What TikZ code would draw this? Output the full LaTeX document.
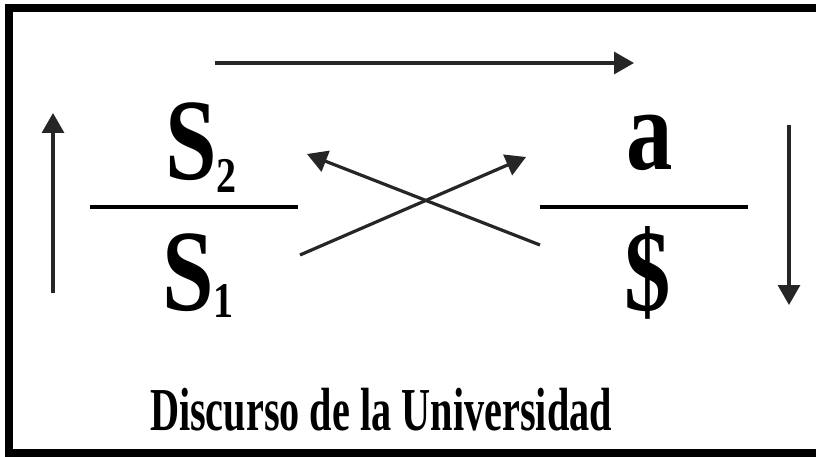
\documentclass[tikz,border=0pt]{standalone}
\usepackage{fontspec}
\setmainfont{Liberation Serif}
\usetikzlibrary{arrows.meta,positioning}
\tikzset{
  bigsym/.style={inner sep=0pt, font=\bfseries\fontsize{116}{116}\selectfont, xscale=0.8},
  titlelbl/.style={inner sep=0pt, font=\bfseries\fontsize{61}{61}\selectfont, xscale=0.66},
  barline/.style={line width=4pt},
  arrw/.style={-{Triangle[length=20pt, width=22pt]}, line width=3.2pt, draw=black!85},
}
\newcommand{\subidx}[2]{\lower#2pt\hbox{\fontsize{50}{50}\selectfont #1}}
\begin{document}
\begin{tikzpicture}[x=1pt, y=-1pt]
  \useasboundingbox (0,0) rectangle (816,457);
  \clip (0,0) rectangle (816,457);
  \fill[white] (0,0) rectangle (816,457);
  % frame, cut off on the right
  \draw[line width=8.5pt] (830,8) -- (9,8) -- (9,453) -- (830,453);

  % agent / other
  \node[bigsym, anchor=base west] (stwo) at (165,180) {S\subidx{2}{13}};
  \node[bigsym, anchor=base] (obja) at (650,170) {a};
  % truth / product
  \node[bigsym, anchor=base west] (sone) at (162,310) {S\subidx{1}{7}};
  \node[bigsym] (subj) at (648,273) {\$};

  \node[titlelbl, anchor=base] (title) at (381,430) {Discurso de la Universidad};

  % bars
  \coordinate (lbarw) at (90,207);
  \coordinate (lbare) at (298,207);
  \coordinate (rbarw) at (540,207);
  \coordinate (rbare) at (748,207);
  \draw[barline] (lbarw) -- (lbare);
  \draw[barline] (rbarw) -- (rbare);

  % arrows
  \coordinate (topw) at (215,63);
  \coordinate (tope) at (634,63);
  \coordinate (upbot) at (53,293);
  \coordinate (uptop) at (53,113);
  \coordinate (dntop) at (789,125);
  \coordinate (dnbot) at (789,305);
  \coordinate (xlbot) at (300,255);
  \coordinate (xrtop) at (526,157);
  \coordinate (xrbot) at (540,245);
  \coordinate (xltop) at (307,154);
  \draw[arrw] (topw) -- (tope);
  \draw[arrw] (upbot) -- (uptop);
  \draw[arrw] (dntop) -- (dnbot);
  \draw[arrw] (xlbot) -- (xrtop);
  \draw[arrw] (xrbot) -- (xltop);
\end{tikzpicture}
\end{document}
